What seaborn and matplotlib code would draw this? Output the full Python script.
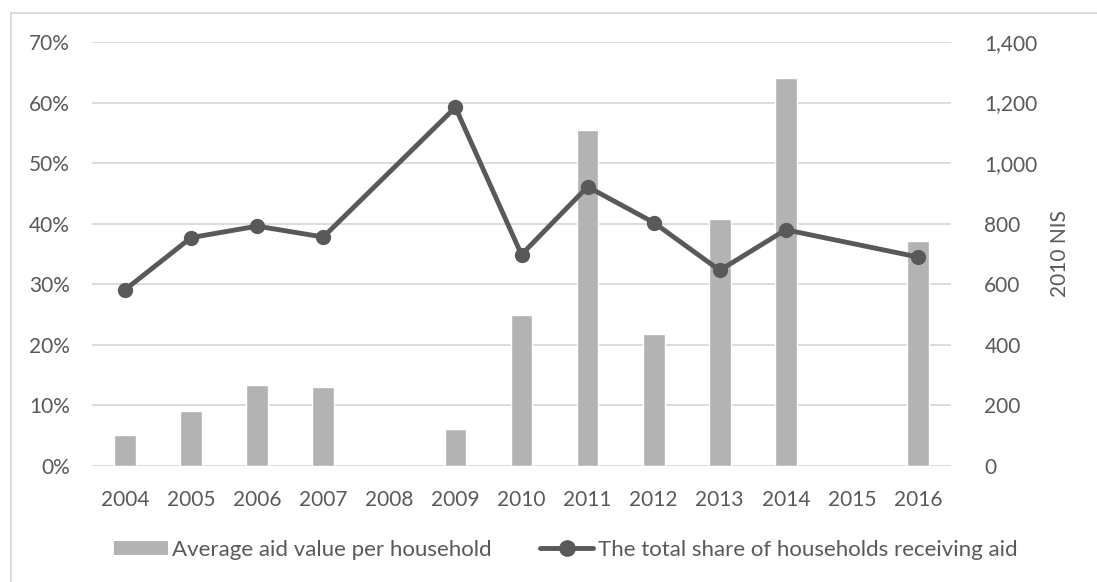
import numpy as np
import pandas as pd
import matplotlib
matplotlib.use("Agg")
import matplotlib.pyplot as plt
import matplotlib.ticker as mtick
from matplotlib.patches import Patch
from matplotlib.lines import Line2D
import seaborn as sns

years = ["2004", "2005", "2006", "2007", "2008", "2009", "2010",
         "2011", "2012", "2013", "2014", "2015", "2016"]
# average aid per household, 2010 NIS (right axis)
aid_value = [101, 181, 267, 260, np.nan, 121, 500,
             1108, 435, 816, 1282, np.nan, 744]
# share of households receiving aid (left axis)
share = [0.291, 0.377, 0.396, 0.378, np.nan, 0.592, 0.349,
         0.461, 0.402, 0.323, 0.390, np.nan, 0.345]

bar_label = "Average aid value per household"
line_label = "The total share of households receiving aid"

df = pd.DataFrame({"year": years, "aid": aid_value, "share": share})
df["pos"] = range(len(df))
line_df = df.dropna(subset=["share"])

sns.set_style("white")
plt.rcParams["font.family"] = ["Lato", "DejaVu Sans"]
txt = "#595959"
bar_c = "#b3b3b3"
line_c = "#595959"
fs = 15
fs_leg = 16

fig = plt.figure(figsize=(10.97, 5.82), dpi=100)
ax2 = fig.add_axes([92 / 1097, 1 - 466 / 582, (951 - 92) / 1097, (466 - 42) / 582])
ax = ax2.twinx()
# put the line axis on top of the bars
ax.set_zorder(ax2.get_zorder() + 1)
ax.patch.set_visible(False)

sns.barplot(data=df, x="year", y="aid", order=years, color=bar_c,
            width=0.33, saturation=1, ax=ax2, zorder=2)
sns.lineplot(data=line_df, x="pos", y="share", color=line_c, lw=3.5,
             marker="o", markersize=11, markeredgewidth=0, ax=ax)

# bars -> right scale, line -> left scale
ax2.yaxis.tick_right()
ax2.yaxis.set_label_position("right")
ax.yaxis.tick_left()
ax.yaxis.set_label_position("left")

ax2.set_ylim(0, 1400)
ax2.set_yticks(range(0, 1401, 200))
ax2.yaxis.set_major_formatter(mtick.FuncFormatter(lambda v, p: f"{int(v):,}"))
ax.set_ylim(0, 0.7)
ax.set_yticks(np.arange(0, 0.71, 0.1))
ax.yaxis.set_major_formatter(mtick.PercentFormatter(1.0, decimals=0))

for a in (ax, ax2):
    a.set_xlim(-0.5, len(years) - 0.5)
    a.set_xlabel("")
    a.set_ylabel("")
    for s in a.spines.values():
        s.set_visible(False)
    a.tick_params(length=0, labelsize=fs, colors=txt)

ax.tick_params(axis="y", pad=16)
ax2.tick_params(axis="y", pad=24)
ax2.tick_params(axis="x", pad=17)
ax.tick_params(axis="x", labelbottom=False)
ax2.set_axisbelow(True)
ax2.grid(axis="y", color="#d9d9d9", lw=1.3)
ax.grid(False)

ax2.set_ylabel("2010 NIS", color=txt, fontsize=fs, labelpad=9)

handles = [Patch(facecolor=bar_c, edgecolor="none"),
           Line2D([], [], color=line_c, lw=3.5, marker="o", markersize=11)]
fig.legend(handles, [bar_label, line_label], loc="center",
           bbox_to_anchor=(566 / 1097, 1 - 550 / 582), ncol=2, frameon=False,
           fontsize=fs_leg, labelcolor=txt, handlelength=2.4, handleheight=0.63,
           handletextpad=0.22, columnspacing=2.15)

# light frame of the chart area
fig.add_artist(Line2D([11 / 1097, 11 / 1097], [0, 1 - 13 / 582], color="#d9d9d9", lw=1.3))
fig.add_artist(Line2D([11 / 1097, 1], [1 - 13 / 582, 1 - 13 / 582], color="#d9d9d9", lw=1.3))

fig.savefig("out.png", dpi=100)
